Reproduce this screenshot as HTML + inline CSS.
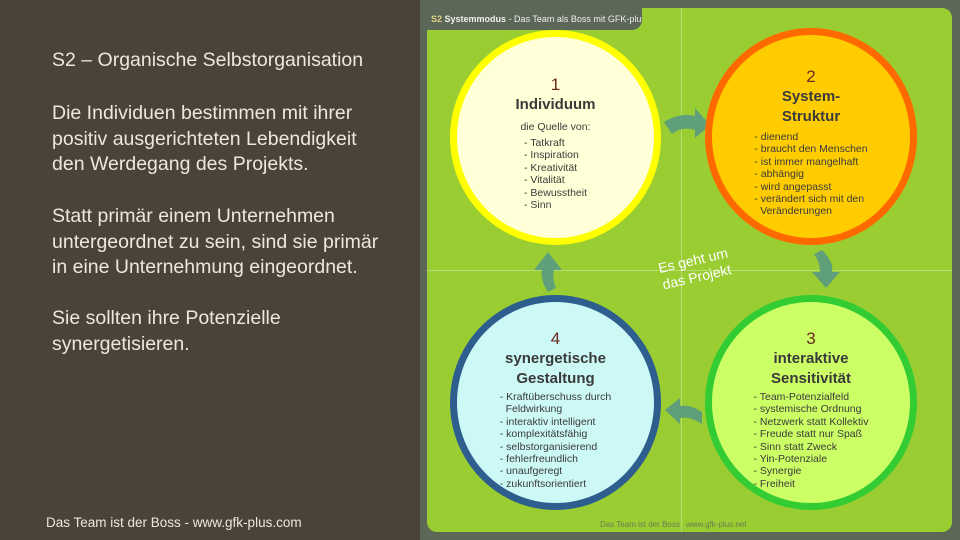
<!DOCTYPE html>
<html><head><meta charset="utf-8"><style>
body{margin:0;width:960px;height:540px;overflow:hidden;background:#5d6758;font-family:"Liberation Sans",sans-serif;position:relative}
.left{position:absolute;left:0;top:0;width:420px;height:540px;background:#4a4338;color:#ece8df}
.left p{position:absolute;left:52px;margin:0;font-size:19.5px;line-height:25.5px}
.panel{position:absolute;left:427px;top:8px;width:525px;height:524px;background:#9acd32;border-radius:10px}
.tab{position:absolute;left:427px;top:8px;width:215px;height:22px;background:#5d6758;border-bottom-right-radius:10px;color:#eee;font-size:9px;line-height:22px;padding-left:4px;box-sizing:border-box;white-space:nowrap;overflow:hidden}
.c{position:absolute;border-radius:50%;box-sizing:border-box;text-align:center;color:#3a3a3a}
.c .n{font-size:17px;color:#6b2a20}
.c .h{font-size:15px;font-weight:bold;line-height:20px}
.c ul{list-style:none;margin:0;padding:0;text-align:left;display:inline-block;font-size:10.5px;line-height:12.4px}
</style></head><body>
<div class="left">
<p style="top:48px">S2 – Organische Selbstorganisation</p>
<p style="top:101px">Die Individuen bestimmen mit ihrer<br>positiv ausgerichteten Lebendigkeit<br>den Werdegang des Projekts.</p>
<p style="top:204px">Statt primär einem Unternehmen<br>untergeordnet zu sein, sind sie primär<br>in eine Unternehmung eingeordnet.</p>
<p style="top:306px">Sie sollten ihre Potenzielle<br>synergetisieren.</p>
<p style="top:510px;left:46px;font-size:13.5px">Das Team ist der Boss - www.gfk-plus.com</p>
</div>
<div class="panel"></div>
<div style="position:absolute;left:681px;top:8px;width:1px;height:524px;background:#b8dc78"></div>
<div style="position:absolute;left:427px;top:270px;width:525px;height:1px;background:#b8dc78"></div>
<div class="tab"><b style="color:#e0d080">S2</b> <b>Systemmodus</b> - Das Team als Boss mit GFK-plus</div>
<svg style="position:absolute;left:0;top:0" width="960" height="540">
<g fill="#5fa07a">
<path d="M664 122 Q680 112 695 116 L695 108 L710 125 L695 138 L695 130 Q682 126 672 134 Z"/>
<path d="M822 250 Q834 262 832 272 L840 272 L826 288 L812 272 L820 272 Q820 262 814 254 Z"/>
<path d="M702 412 Q690 404 680 406 L680 398 L665 410 L680 424 L680 418 Q690 416 702 424 Z"/>
<path d="M548 292 Q540 280 542 270 L534 270 L548 252 L562 270 L554 270 Q552 280 556 288 Z"/>
</g>
</svg>
<div class="c" style="left:450px;top:30px;width:211px;height:215px;border:7px solid #ffff00;background:#ffffd8;padding-top:38px">
<div class="n">1</div><div class="h">Individuum</div><div style="font-size:10.5px;margin:6px 0 4px">die Quelle von:</div>
<ul><li>- Tatkraft</li><li>- Inspiration</li><li>- Kreativität</li><li>- Vitalität</li><li>- Bewusstheit</li><li>- Sinn</li></ul></div>
<div class="c" style="left:705px;top:28px;width:212px;height:217px;border:7px solid #ff6a00;background:#ffcc00;padding-top:32px">
<div class="n">2</div><div class="h">System-<br>Struktur</div>
<ul style="margin-top:4px"><li>- dienend</li><li>- braucht den Menschen</li><li>- ist immer mangelhaft</li><li>- abhängig</li><li>- wird angepasst</li><li>- verändert sich mit den</li><li>&nbsp; Veränderungen</li></ul></div>
<div class="c" style="left:450px;top:295px;width:211px;height:215px;border:7px solid #2e5e8e;background:#ccf8f6;padding-top:27px">
<div class="n">4</div><div class="h">synergetische<br>Gestaltung</div>
<ul style="margin-top:2px"><li>- Kraftüberschuss durch</li><li>&nbsp; Feldwirkung</li><li>- interaktiv intelligent</li><li>- komplexitätsfähig</li><li>- selbstorganisierend</li><li>- fehlerfreundlich</li><li>- unaufgeregt</li><li>- zukunftsorientiert</li></ul></div>
<div class="c" style="left:705px;top:295px;width:212px;height:215px;border:7px solid #33cc33;background:#ccff66;padding-top:27px">
<div class="n">3</div><div class="h">interaktive<br>Sensitivität</div>
<ul style="margin-top:2px"><li>- Team-Potenzialfeld</li><li>- systemische Ordnung</li><li>- Netzwerk statt Kollektiv</li><li>- Freude statt nur Spaß</li><li>- Sinn statt Zweck</li><li>- Yin-Potenziale</li><li>- Synergie</li><li>- Freiheit</li></ul></div>
<div style="position:absolute;left:640px;top:252px;width:110px;text-align:center;color:#fff;font-size:14px;line-height:17px;transform:rotate(-13deg)">Es geht um<br>das Projekt</div>
<div style="position:absolute;left:600px;top:520px;font-size:8px;color:#6a7a50">Das Team ist der Boss</div>
<div style="position:absolute;left:686px;top:520px;font-size:8px;color:#6a7a50">www.gfk-plus.net</div>
</body></html>
